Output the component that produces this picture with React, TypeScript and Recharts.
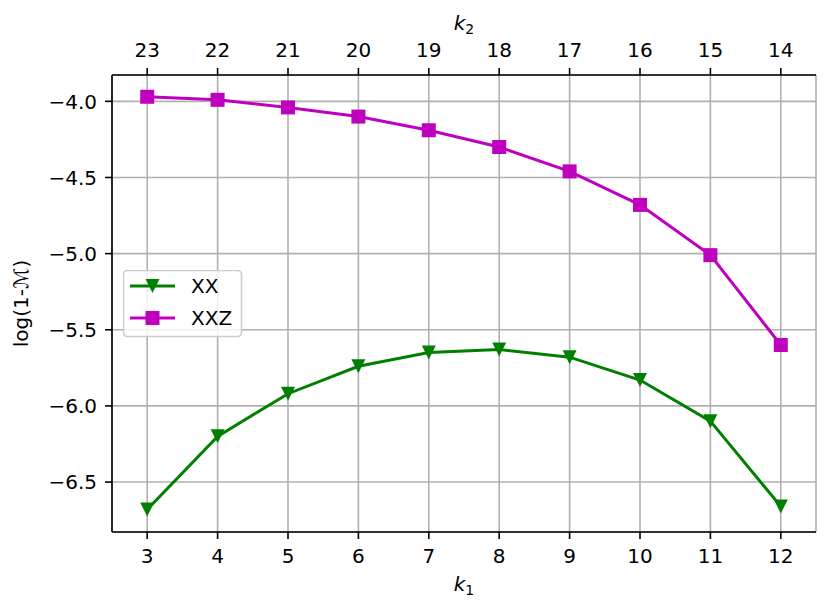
import { CartesianGrid, Legend, Line, LineChart, XAxis, YAxis } from 'recharts';

const k1 = [3, 4, 5, 6, 7, 8, 9, 10, 11, 12];
const k2 = [23, 22, 21, 20, 19, 18, 17, 16, 15, 14];
const xx = [-6.68, -6.2, -5.92, -5.74, -5.65, -5.63, -5.68, -5.83, -6.1, -6.66];
const xxz = [-3.97, -3.99, -4.04, -4.1, -4.19, -4.3, -4.46, -4.68, -5.01, -5.6];
const yTicks = [-6.5, -6.0, -5.5, -5.0, -4.5, -4.0];

const GREEN = '#008000';
const MAGENTA = '#bf00bf';
const FONT = 'DejaVu Sans';

const data = k1.map((k, i) => ({ k1: k, xx: xx[i], xxz: xxz[i] }));

const minus = (s: string) => s.replace('-', '\u2212');

function TriangleDot({ cx, cy, fill }: { cx?: number; cy?: number; fill: string }) {
  if (cx == null || cy == null) return null;
  const r = 7;
  return <path d={`M${cx - r},${cy - r}L${cx + r},${cy - r}L${cx},${cy + r}Z`} fill={fill} />;
}

function SquareDot({ cx, cy, fill }: { cx?: number; cy?: number; fill: string }) {
  if (cx == null || cy == null) return null;
  const r = 7;
  return <rect x={cx - r} y={cy - r} width={2 * r} height={2 * r} fill={fill} />;
}

function BottomTick(props: any) {
  const { x, y, payload } = props;
  return (
    <text x={x} y={y + 24} textAnchor="middle" fontFamily={FONT} fontSize={20} fill="#000">
      {payload.value}
    </text>
  );
}

function TopTick(props: any) {
  const { x, y, payload } = props;
  const idx = k1.indexOf(payload.value);
  return (
    <text x={x} y={y - 11} textAnchor="middle" fontFamily={FONT} fontSize={20} fill="#000">
      {k2[idx]}
    </text>
  );
}

function LeftTick(props: any) {
  const { x, y, payload } = props;
  return (
    <text x={x - 8} y={y + 7.3} textAnchor="end" fontFamily={FONT} fontSize={20} fill="#000">
      {minus(payload.value.toFixed(1))}
    </text>
  );
}

function LegendBox() {
  const rows = [
    { name: 'XX', color: GREEN, shape: 'tri' },
    { name: 'XXZ', color: MAGENTA, shape: 'sq' },
  ];
  return (
    <svg width={120} height={68} style={{ display: 'block' }}>
      <rect x={0.5} y={0.5} width={118} height={66} rx={4} fill="#fff" fillOpacity={0.8} stroke="#cccccc" strokeWidth={1.6} />
      {rows.map((r, i) => {
        const cy = 16 + i * 32;
        return (
          <g key={r.name}>
            <line x1={7} x2={52} y1={cy} y2={cy} stroke={r.color} strokeWidth={3} />
            {r.shape === 'tri' ? <TriangleDot cx={29.5} cy={cy} fill={r.color} /> : <SquareDot cx={29.5} cy={cy} fill={r.color} />}
            <text x={68} y={cy + 7.3} fontFamily={FONT} fontSize={20} fill="#000">
              {r.name}
            </text>
          </g>
        );
      })}
    </svg>
  );
}

export default function App() {
  return (
    <div style={{ position: 'absolute', left: 0, top: 0, width: 831, height: 612, background: '#fff' }}>
      <LineChart width={831} height={612} data={data} margin={{ top: 35, right: 15, bottom: 40, left: 52 }}>
        <CartesianGrid xAxisId="bottom" yAxisId="left" stroke="#b0b0b0" strokeWidth={1.6} />
        <XAxis
          xAxisId="bottom"
          dataKey="k1"
          type="number"
          domain={[2.5, 12.5]}
          ticks={k1}
          allowDataOverflow
          height={40}
          tickSize={7}
          tickMargin={0}
          axisLine={{ stroke: '#000', strokeWidth: 1.6 }}
          tickLine={{ stroke: '#000', strokeWidth: 1.6 }}
          tick={<BottomTick />}
          label={{
            content: () => (
              <text x={464} y={591} textAnchor="middle" fontFamily={FONT} fontSize={20} fill="#000">
                <tspan fontStyle="italic">k</tspan>
                <tspan fontSize={14} dy={4}>1</tspan>
              </text>
            ),
          }}
        />
        <XAxis
          xAxisId="top"
          orientation="top"
          dataKey="k1"
          type="number"
          domain={[2.5, 12.5]}
          ticks={k1}
          allowDataOverflow
          height={40}
          tickSize={7}
          tickMargin={0}
          axisLine={{ stroke: '#000', strokeWidth: 1.6 }}
          tickLine={{ stroke: '#000', strokeWidth: 1.6 }}
          tick={<TopTick />}
          label={{
            content: () => (
              <text x={464} y={30} textAnchor="middle" fontFamily={FONT} fontSize={20} fill="#000">
                <tspan fontStyle="italic">k</tspan>
                <tspan fontSize={14} dy={4}>2</tspan>
              </text>
            ),
          }}
        />
        <YAxis
          yAxisId="left"
          type="number"
          domain={[-6.828, -3.827]}
          ticks={yTicks}
          allowDataOverflow
          width={60}
          tickSize={7}
          tickMargin={0}
          axisLine={{ stroke: '#000', strokeWidth: 1.6 }}
          tickLine={{ stroke: '#000', strokeWidth: 1.6 }}
          tick={<LeftTick />}
          label={{
            content: () => (
              <text
                x={28}
                y={303.5}
                transform="rotate(-90 28 303.5)"
                textAnchor="middle"
                fontFamily={FONT}
                fontSize={20}
                fill="#000"
              >
                log(1-ℳ)
              </text>
            ),
          }}
        />
        <YAxis
          yAxisId="right"
          orientation="right"
          type="number"
          domain={[-6.828, -3.827]}
          allowDataOverflow
          width={0}
          tick={false}
          tickLine={false}
          axisLine={{ stroke: '#000', strokeWidth: 1.6 }}
        />
        <Legend
          layout="vertical"
          align="center"
          verticalAlign="middle"
          wrapperStyle={{ left: 123, top: 270, width: 120, height: 68 }}
          content={() => <LegendBox />}
        />
        <Line
          xAxisId="bottom"
          yAxisId="left"
          dataKey="xx"
          name="XX"
          stroke={GREEN}
          strokeWidth={3}
          dot={(p: any) => <TriangleDot key={`t${p.index}`} cx={p.cx} cy={p.cy} fill={GREEN} />}
          activeDot={false}
          isAnimationActive={false}
        />
        <Line
          xAxisId="bottom"
          yAxisId="left"
          dataKey="xxz"
          name="XXZ"
          stroke={MAGENTA}
          strokeWidth={3}
          dot={(p: any) => <SquareDot key={`s${p.index}`} cx={p.cx} cy={p.cy} fill={MAGENTA} />}
          activeDot={false}
          isAnimationActive={false}
        />
      </LineChart>
    </div>
  );
}
